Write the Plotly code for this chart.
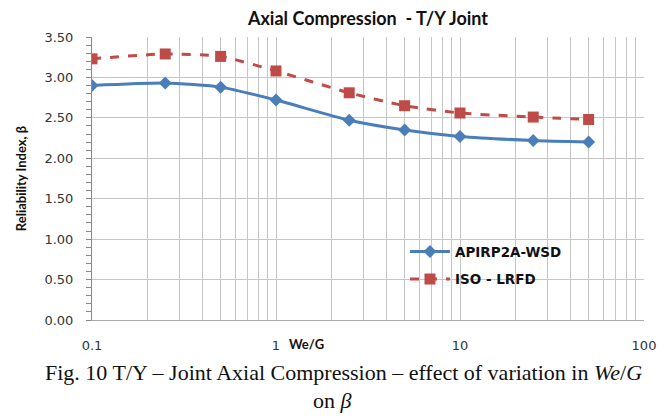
import plotly.graph_objects as go

we_g = [0.1, 0.25, 0.5, 1, 2.5, 5, 10, 25, 50]
api_wsd = [2.90, 2.93, 2.88, 2.72, 2.47, 2.35, 2.27, 2.22, 2.20]
iso_lrfd = [3.23, 3.29, 3.26, 3.08, 2.81, 2.65, 2.56, 2.51, 2.48]
x_ticks = [0.1, 1, 10, 100]
x_tick_labels = ["0.1", "1", "10", "100"]
minor_vals = [m * d for d in (0.1, 1, 10) for m in range(2, 10)]

FONT = "Lato, 'Open Sans', sans-serif"
TICKFONT = "'DejaVu Sans', sans-serif"
SERIF = "'Liberation Serif', serif"
GRID = "#c6c6c6"

fig = go.Figure()
fig.add_trace(go.Scatter(
    x=we_g, y=api_wsd, name="<b>APIRP2A-WSD</b>", mode="lines+markers",
    legendgroup="a",
    line=dict(color="#4a7ebb", width=3, shape="spline", smoothing=0.6),
    marker=dict(symbol="diamond", size=10, color="#4a7ebb"),
))
fig.add_trace(go.Scatter(
    x=we_g, y=iso_lrfd, name="<b>ISO - LRFD</b>", mode="lines+markers",
    legendgroup="b",
    line=dict(color="#be4b48", width=3, dash="dash", shape="spline", smoothing=0.6),
    marker=dict(symbol="square", size=11, color="#be4b48"),
))

# white legend background over gridlines
fig.add_shape(type="rect", xref="paper", yref="paper",
              x0=0.52, x1=0.922, y0=0.10, y1=0.31,
              fillcolor="white", line=dict(width=0), layer="between")

fig.update_layout(
    width=661, height=411,
    margin=dict(l=84, r=25, t=29, b=99),
    paper_bgcolor="white", plot_bgcolor="white",
    font=dict(family=FONT, size=12, color="#222"),
    title=dict(text="<b>Axial Compression  - T/Y Joint</b>", x=0.5, xanchor="center",
               xref="paper", y=0.975, yanchor="middle", font=dict(size=18, color="#111", family=FONT)),
    showlegend=True,
    legend=dict(x=0.567, y=0.296, xanchor="left", yanchor="top",
                bgcolor="rgba(0,0,0,0)", font=dict(size=13.5, color="#111", family=TICKFONT),
                tracegroupgap=7, itemwidth=40),
    xaxis=dict(type="log", range=[-1, 2], tickvals=x_ticks, ticktext=x_tick_labels,
               showgrid=True, gridcolor=GRID, gridwidth=1,
               showline=True, linecolor="#aaaaaa", linewidth=1, mirror=False,
               ticks="", ticklabelstandoff=13, zeroline=False,
               tickfont=dict(size=13, color="#333", family=TICKFONT),
               minor=dict(tickvals=minor_vals, showgrid=True, gridcolor=GRID, gridwidth=1)),
    yaxis=dict(range=[0, 3.5], dtick=0.5, tickformat=".2f",
               showgrid=True, gridcolor=GRID, gridwidth=1,
               showline=True, linecolor="#888888", linewidth=1,
               ticks="outside", ticklen=5, tickcolor="#888888", zeroline=False,
               ticklabelstandoff=10,
               tickfont=dict(size=13, color="#333", family=TICKFONT),
               title=dict(text="<b>Reliability Index, β</b>", font=dict(size=13, color="#111"), standoff=14),
               minor=dict(dtick=0.1, ticks="outside", ticklen=5, tickcolor="#888888", showgrid=False)),
)

fig.add_annotation(text="<b>We/G</b>", xref="paper", yref="paper", x=0.388, y=-0.085,
                   xanchor="center", yanchor="middle", showarrow=False,
                   font=dict(size=13, color="#111", family=FONT))
fig.add_annotation(text="Fig. 10 T/Y – Joint Axial Compression – effect of variation in <i>We</i>/<i>G</i>",
                   xref="paper", yref="paper", x=0.455, y=-0.184, xanchor="center", yanchor="middle",
                   showarrow=False, font=dict(size=22, color="#111", family=SERIF))
fig.add_annotation(text="on <i>β</i>",
                   xref="paper", yref="paper", x=0.435, y=-0.286, xanchor="center", yanchor="middle",
                   showarrow=False, font=dict(size=22, color="#111", family=SERIF))

fig.write_html("out.html")
